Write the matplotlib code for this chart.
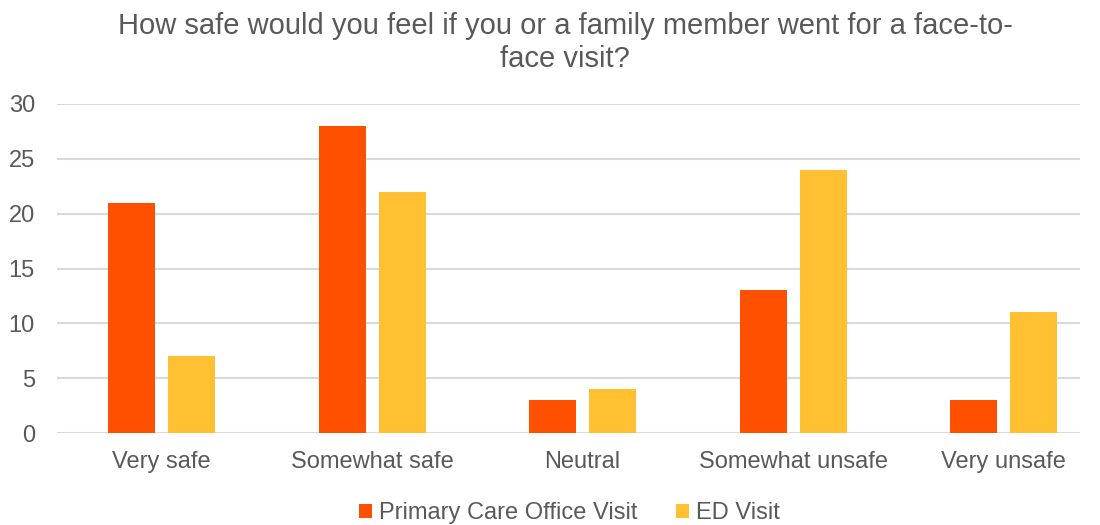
import numpy as np
import matplotlib
matplotlib.use("Agg")
import matplotlib.pyplot as plt

plt.rcParams["font.family"] = ["Liberation Sans", "DejaVu Sans"]

categories = ["Very safe", "Somewhat safe", "Neutral", "Somewhat unsafe", "Very unsafe"]
primary_care = [21, 28, 3, 13, 3]
ed_visit = [7, 22, 4, 24, 11]
series_names = ["Primary Care Office Visit", "ED Visit"]

text_color = "#595959"
grid_color = "#D9D9D9"

fig = plt.figure(figsize=(11, 5.25), dpi=100)
ax = fig.add_axes([0.052, 0.175, 0.93, 0.627])

x = np.arange(len(categories))
w = 0.223
ax.bar(x - 0.1425, primary_care, w, color="#FF5000", label=series_names[0], zorder=3)
ax.bar(x + 0.1425, ed_visit, w, color="#FFC032", label=series_names[1], zorder=3)

ax.set_xlim(-0.4964, 4.364)
ax.set_ylim(0, 30)
ax.set_yticks(range(0, 31, 5))
ax.set_xticks(x)
ax.set_xticklabels(categories)
ax.tick_params(axis="both", length=0, labelsize=17, colors=text_color)
ax.tick_params(axis="x", pad=13)
ax.tick_params(axis="y", pad=16)
ax.grid(axis="y", color=grid_color, linewidth=1.5, zorder=0)
for s in ax.spines.values():
    s.set_visible(False)

fig.suptitle("How safe would you feel if you or a family member went for a face-to-\nface visit?",
             x=0.514, y=0.978, fontsize=21, color=text_color, linespacing=1.25)

fig.legend(loc="center", bbox_to_anchor=(0.5177, 0.022), ncol=2, frameon=False,
           fontsize=17, labelcolor=text_color, handlelength=0.55, handleheight=0.55,
           handletextpad=0.3, columnspacing=1.6, borderpad=0)

fig.savefig("out.png", dpi=100)
